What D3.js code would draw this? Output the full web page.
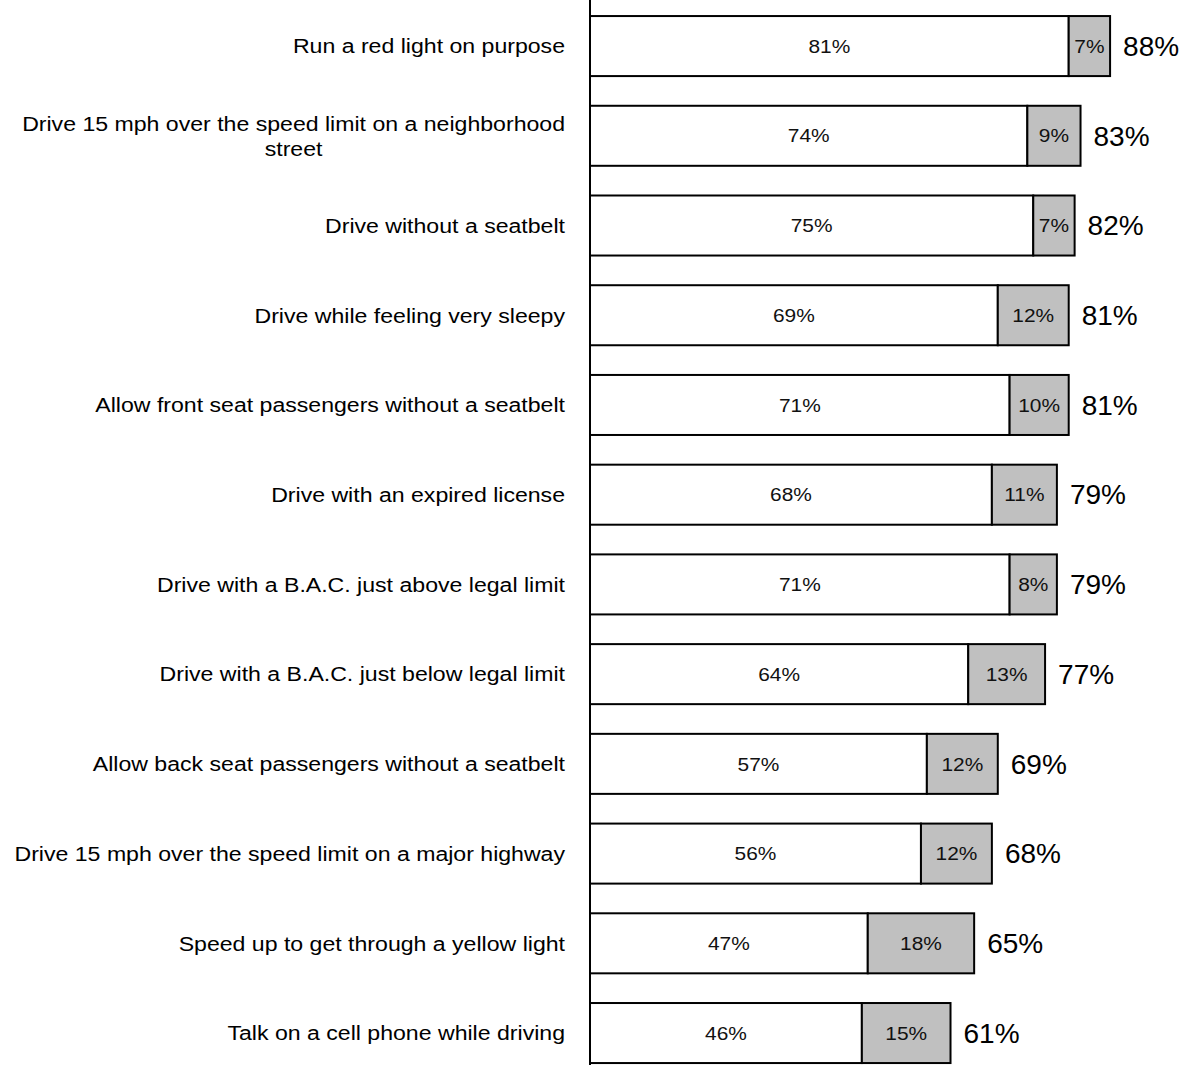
<!DOCTYPE html>
<html>
<head>
<meta charset="utf-8">
<script src="https://cdn.jsdelivr.net/npm/d3@7"></script>
<style>
  body { margin: 0; background: #fff; }
  svg { display: block; font-family: "Liberation Sans", Arial, sans-serif; }
</style>
</head>
<body>
<svg width="1194" height="1065"></svg>
<script>
const categories = [
  'Run a red light on purpose',
  'Drive 15 mph over the speed limit on a neighborhood street',
  'Drive without a seatbelt',
  'Drive while feeling very sleepy',
  'Allow front seat passengers without a seatbelt',
  'Drive with an expired license',
  'Drive with a B.A.C. just above legal limit',
  'Drive with a B.A.C. just below legal limit',
  'Allow back seat passengers without a seatbelt',
  'Drive 15 mph over the speed limit on a major highway',
  'Speed up to get through a yellow light',
  'Talk on a cell phone while driving'
];
const mainValues = [81, 74, 75, 69, 71, 68, 71, 64, 57, 56, 47, 46];
const extraValues = [7, 9, 7, 12, 10, 11, 8, 13, 12, 12, 18, 15];

const data = categories.map((c, i) => ({
  key: c, main: mainValues[i], extra: extraValues[i], total: mainValues[i] + extraValues[i]
}));

const svg = d3.select('svg');
const axisX = 590;
const labelRight = 565;
const sx = 1.1;

const xScale = d3.scaleLinear().domain([0, 100]).range([axisX, axisX + 591]);
const yScale = d3.scaleBand()
  .domain(categories)
  .range([1.2, 1077.9])
  .paddingInner(0.331)
  .paddingOuter(0.1655);

const rows = svg.selectAll('g.row')
  .data(data)
  .enter()
  .append('g')
  .attr('class', 'row');

// white segment
rows.append('rect')
  .attr('x', d => xScale(0))
  .attr('y', d => yScale(d.key))
  .attr('width', d => xScale(d.main) - xScale(0))
  .attr('height', yScale.bandwidth())
  .attr('fill', '#fff')
  .attr('stroke', '#000')
  .attr('stroke-width', 2);

// grey segment
rows.append('rect')
  .attr('x', d => xScale(d.main))
  .attr('y', d => yScale(d.key))
  .attr('width', d => xScale(d.main + d.extra) - xScale(d.main))
  .attr('height', yScale.bandwidth())
  .attr('fill', '#c0c0c0')
  .attr('stroke', '#000')
  .attr('stroke-width', 2);

const mid = d => yScale(d.key) + yScale.bandwidth() / 2;

rows.append('g')
  .attr('transform', d => `translate(${(xScale(0) + xScale(d.main)) / 2}, ${mid(d)}) scale(${sx},1)`)
  .append('text')
  .attr('text-anchor', 'middle')
  .attr('dy', '0.35em')
  .style('font-size', '19px')
  .attr('fill', '#111')
  .text(d => `${d.main}%`);

rows.append('g')
  .attr('transform', d => `translate(${(xScale(d.main) + xScale(d.main + d.extra)) / 2}, ${mid(d)}) scale(${sx},1)`)
  .append('text')
  .attr('text-anchor', 'middle')
  .attr('dy', '0.35em')
  .style('font-size', '19px')
  .attr('fill', '#111')
  .text(d => `${d.extra}%`);

// totals
rows.append('text')
  .attr('x', d => xScale(d.total) + 13)
  .attr('y', mid)
  .attr('dy', '0.35em')
  .style('font-size', '28px')
  .attr('fill', '#000')
  .text(d => `${d.total}%`);

// category labels, wrapped when too long
const maxW = (labelRight - 5) / sx;
rows.each(function(d) {
  const g = d3.select(this).append('g')
    .attr('transform', `translate(${labelRight}, ${mid(d)}) scale(${sx},1)`);
  const text = g.append('text')
    .style('font-size', '21px')
    .attr('fill', '#000');
  const words = d.key.split(' ');
  const lines = [];
  let line = [];
  const probe = text.append('tspan');
  words.forEach(w => {
    line.push(w);
    probe.text(line.join(' '));
    if (probe.node().getComputedTextLength() > maxW && line.length > 1) {
      line.pop();
      lines.push(line.join(' '));
      line = [w];
    }
  });
  lines.push(line.join(' '));
  probe.remove();

  const lh = 25;
  if (lines.length === 1) {
    text.attr('text-anchor', 'end').attr('dy', '0.35em').text(lines[0]);
  } else {
    const widths = lines.map(l => { text.text(l); return text.node().getComputedTextLength(); });
    text.text('');
    const w = d3.max(widths);
    text.attr('text-anchor', 'middle');
    lines.forEach((l, i) => {
      text.append('tspan')
        .attr('x', -w / 2)
        .attr('y', (i - (lines.length - 1) / 2) * lh)
        .attr('dy', '0.35em')
        .text(l);
    });
  }
});

// vertical axis line
svg.append('line')
  .attr('x1', axisX).attr('x2', axisX)
  .attr('y1', 0).attr('y2', 1065)
  .attr('stroke', '#000')
  .attr('stroke-width', 2);
</script>
</body>
</html>
